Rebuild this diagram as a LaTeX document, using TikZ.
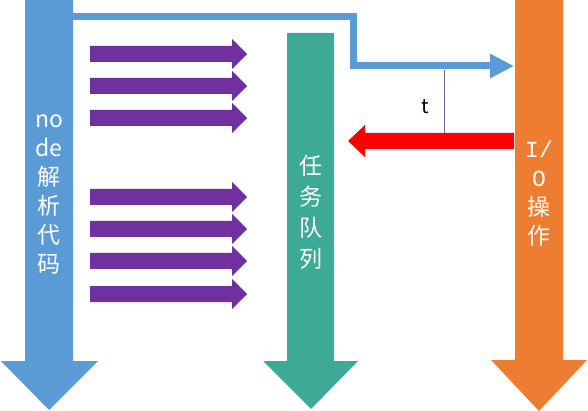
\documentclass[tikz,border=0pt]{standalone}
\usepackage{fontspec}
\setmainfont{Noto Sans CJK SC}
\newfontfamily\monofont{Liberation Mono}
\usetikzlibrary{arrows.meta}

\definecolor{codeblue}{HTML}{5B9BD5}
\definecolor{queuegreen}{HTML}{3DAA95}
\definecolor{ioorange}{HTML}{ED7D31}
\definecolor{taskpurple}{HTML}{7030A0}

\tikzset{
  vlabel/.style = {text=white, align=center, inner sep=0pt,
                   font=\fontsize{23}{29}\selectfont},
  link/.style   = {codeblue, line width=7pt,
                   -{Triangle[length=24pt, width=23pt]}}
}

\begin{document}
\begin{tikzpicture}[x=1pt, y=-1pt]
    \useasboundingbox (0, 0) rectangle (588, 411);

    % big down arrows
    \fill [codeblue] (25, 0) -- (73, 0) -- (73, 361) -- (98, 361) -- (49, 410)
                     -- (1, 361) -- (25, 361) -- cycle;
    \fill [queuegreen] (287, 33) -- (334, 33) -- (334, 361) -- (358, 361)
                       -- (311, 409) -- (263, 361) -- (287, 361) -- cycle;
    \fill [ioorange] (515, 0) -- (563, 0) -- (563, 360) -- (587, 360)
                     -- (539, 411) -- (491, 360) -- (515, 360) -- cycle;

    \node [vlabel] (code) at (49, 194) {no\\de\\解\\析\\代\\码};
    \node [vlabel, font=\fontsize{23}{31}\selectfont] (queue) at (311, 212) {任\\务\\队\\列};
    \node [vlabel] (io) at (539, 194) {{\monofont I/}\\{\monofont O}\\操\\作};

    % tasks pushed into the queue
    \foreach \y in {54, 86, 118, 197, 229, 261, 294} {
      \fill [taskpurple] (90, \y-8) -- (232, \y-8) -- (232, \y-15) -- (247, \y)
                         -- (232, \y+15) -- (232, \y+8) -- (90, \y+8) -- cycle;
    }

    % call to I/O and callback
    \coordinate (out) at (73, 17);
    \coordinate (bend1) at (353, 17);
    \coordinate (bend2) at (353, 66);
    \coordinate (ioin) at (514, 66);
    \draw [link] (out) -- (bend1) -- (bend2) -- (ioin);

    \fill [red] (514, 133) -- (365, 133) -- (365, 125) -- (348, 141)
                -- (365, 157) -- (365, 149) -- (514, 149) -- cycle;

    \coordinate (wait1) at (444, 70);
    \coordinate (wait2) at (444, 133);
    \draw [gray!80!blue, thin] (wait1) -- (wait2);
    \node [font=\fontsize{20}{22}\selectfont] (t) at (425, 107) {t};
\end{tikzpicture}
\end{document}
